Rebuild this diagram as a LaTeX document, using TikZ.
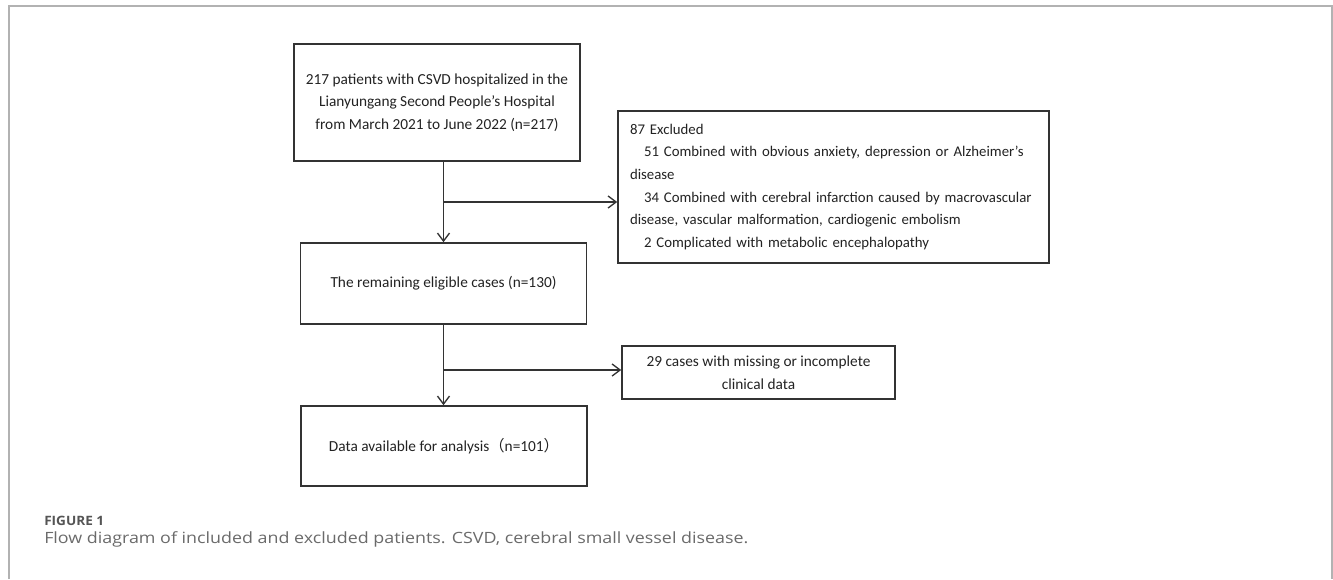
\documentclass[tikz,border=0pt]{standalone}
\usepackage{fontspec}
\setmainfont{Carlito}
\newfontfamily\capfont{Open Sans}
\newfontfamily\cjkfont{Noto Sans CJK SC}
\usetikzlibrary{arrows.meta}
\definecolor{framegray}{HTML}{B2B2B2}
\definecolor{boxline}{HTML}{333333}
\definecolor{boxtext}{HTML}{222222}
\definecolor{capgray}{HTML}{555555}
\definecolor{capgray2}{HTML}{6A6A6A}
\tikzset{
  flowbox/.style={draw=boxline, line width=1.2pt, text=boxtext, align=center,
    font=\fontsize{11.5pt}{17pt}\selectfont, inner sep=0pt},
  flowarrow/.style={draw=boxline, line width=1pt, -{Straight Barb[length=6pt,width=9pt]}},
  flowline/.style={draw=boxline, line width=1pt}
}
\begin{document}
\begin{tikzpicture}[x=0.75pt, y=-0.75pt]
\useasboundingbox (0,0) rectangle (1333,579);
% frame
\draw[framegray, line width=1.5pt] (9.3,579) -- (9.3,6.3) -- (1332,6.3) -- (1332,579);

% boxes
\node[flowbox, minimum width=214.5pt, minimum height=87.75pt] (b1) at (437,102.5)
  {217 patients with CSVD hospitalized in the\\Lianyungang Second People's Hospital\\from March 2021 to June 2022 (n=217)};
\node[flowbox, minimum width=214.5pt, minimum height=60.75pt] (b2) at (443.5,283.5)
  {The remaining eligible cases (n=130)};
\node[flowbox, minimum width=214.5pt, minimum height=60pt] (b3) at (444,446)
  {Data available for analysis{\cjkfont （}n=101{\cjkfont ）}};
\node[flowbox, minimum width=204.75pt, minimum height=39.75pt] (b29) at (758.5,372.5)
  {29 cases with missing or incomplete\\clinical data};
\node[flowbox, align=left, text width=305.25pt, inner xsep=9pt, minimum height=114pt,
      font=\fontsize{11.1pt}{17pt}\selectfont] (ex) at (833.5,187)
  {87 Excluded\\
   \makebox[305.25pt][s]{\hspace*{10.5pt}51 Combined with obvious anxiety, depression or Alzheimer's}\\
   disease\\
   \makebox[305.25pt][s]{\hspace*{10.5pt}34 Combined with cerebral infarction caused by macrovascular}\\
   disease, vascular malformation, cardiogenic embolism\\
   \hspace*{10.5pt}2 Complicated with metabolic encephalopathy};

% connectors
\coordinate (j1) at (443,202);
\coordinate (j2) at (443,370);
\draw[flowarrow] (b1.south -| b2.north) -- (b2.north);
\draw[flowarrow] (j1) -- (j1 -| ex.west);
\draw[flowarrow] (b2.south) -- (b2.south |- b3.north);
\draw[flowarrow] (j2) -- (j2 -| b29.west);

% caption
\node[anchor=base west, inner sep=0pt, text=capgray] (figlabel) at (44,525)
  {\resizebox{45pt}{7pt}{\capfont\bfseries FIGURE 1}};
\node[anchor=base west, inner sep=0pt, text=capgray2] (caption) at (44,543)
  {\resizebox{528pt}{8.9pt}{\capfont Flow diagram of included and excluded patients. CSVD, cerebral small vessel disease.}};
\end{tikzpicture}
\end{document}
